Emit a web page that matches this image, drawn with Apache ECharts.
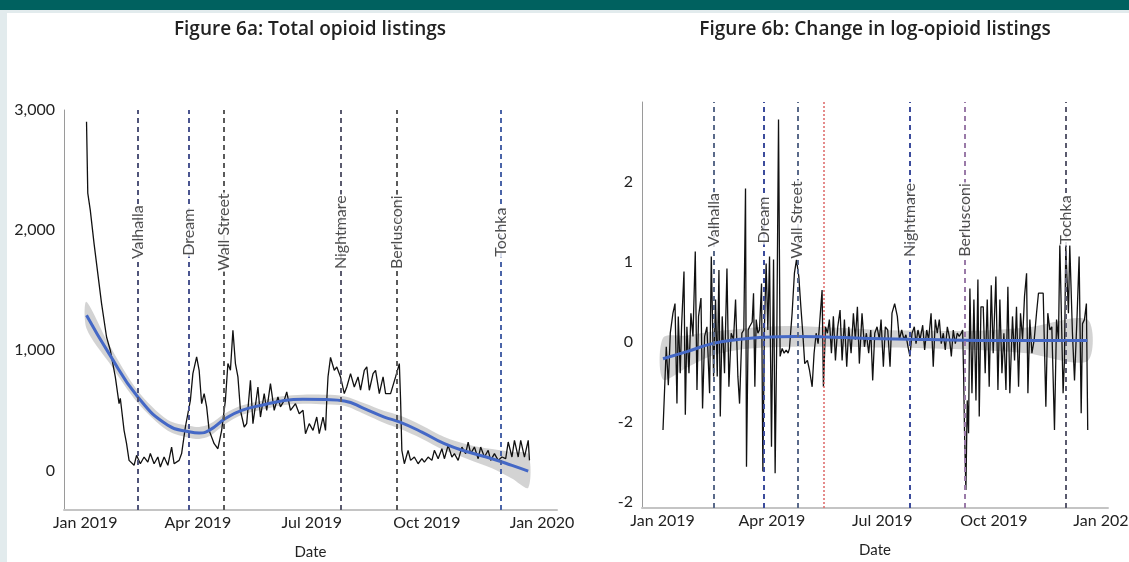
<!DOCTYPE html>
<html>
<head>
<meta charset="utf-8">
<script src="https://cdn.jsdelivr.net/npm/echarts@6/dist/echarts.min.js"></script>
<style>html,body{margin:0;padding:0;background:#fff;}#c{width:1129px;height:562px;}</style>
</head>
<body>
<div id="c"></div>
<script>
// ---------------- DATA ----------------
const titleA = 'Figure 6a: Total opioid listings';
const titleB = 'Figure 6b: Change in log-opioid listings';
const xTickDays = [0, 90, 181, 273, 365];          // days since 1 Jan 2019
const xTickLabels = ['Jan 2019', 'Apr 2019', 'Jul 2019', 'Oct 2019', 'Jan 2020'];
const yTicksLeft = [0, 1000, 2000, 3000];
const yTickLabelsLeft = ['0', '1,000', '2,000', '3,000'];
const yTicksRight = [-2, -1, 0, 1, 2];
const yTickLabelsRight = ['-2', '-2', '0', '1', '2'];
const eventNames = ['Valhalla', 'Dream', 'Wall Street', 'Nightmare', 'Berlusconi', 'Tochka'];
const eventDays = [42, 83, 111, 204, 249, 332];
const extraEventDay = 133; // red dotted line (6b only)

// total opioid listings: [day, listings]
const totalListings = [[1,2903],[2,2308],[4,2167],[7,1890],[11,1556],[13,1390],[17,1110],[20,1000],[24,778],[27,556],[28,600],[31,333],[33,222],[35,83],[39,42],[40,33],[41,125],[44,55],[47,111],[50,69],[52,140],[55,55],[58,111],[60,28],[63,111],[66,42],[69,194],[71,55],[75,83],[77,140],[80,361],[84,583],[86,805],[89,944],[91,833],[93,555],[95,639],[97,528],[99,333],[103,222],[106,180],[109,333],[112,583],[114,889],[116,833],[118,1167],[120,889],[122,778],[124,500],[127,361],[129,389],[132,750],[134,389],[138,694],[140,444],[143,639],[145,500],[148,722],[151,500],[154,611],[156,528],[159,583],[161,653],[164,500],[168,555],[171,472],[174,500],[176,305],[179,389],[182,333],[185,444],[187,305],[190,444],[192,333],[193,583],[194,778],[196,940],[199,833],[201,861],[204,778],[207,639],[209,694],[212,805],[215,694],[218,778],[220,667],[223,833],[225,861],[227,667],[230,805],[232,833],[235,639],[238,778],[240,639],[244,639],[248,778],[251,889],[252,583],[253,167],[255,55],[258,167],[260,83],[263,111],[266,55],[269,97],[271,69],[274,111],[277,83],[279,167],[282,97],[285,180],[287,97],[290,208],[293,111],[295,139],[298,83],[301,194],[304,139],[306,236],[308,139],[311,194],[314,97],[316,194],[319,111],[322,167],[324,83],[327,139],[330,83],[333,111],[336,97],[338,236],[341,111],[343,250],[346,111],[348,250],[351,111],[354,250],[355,83]];

// smoothed fit for 6a and its confidence half-width
const fitDaysA = [1,19,42,66,84,91,99,112,125,141,157,174,192,207,223,239,251,269,287,306,325,341,354];
const fitA = [1292,972,611,375,319,311,333,431,500,542,578,592,589,578,514,444,403,319,222,153,97,42,-6];
const fitHalfA = [110,75,50,45,50,50,50,45,40,38,38,38,40,40,45,50,55,55,55,60,80,110,140];

// change in log-opioid listings: [day, change]
const logChange = [[0.3,-1.1],[3,-0.06],[4.7,-0.54],[6.3,0.11],[8.5,0.36],[10.2,0.48],[11.8,-0.77],[12.9,0.32],[14.5,-0.39],[15.6,0.19],[17.6,0.88],[18.7,-0.91],[20,0.19],[21.7,-0.39],[23.3,0.36],[25,0.07],[26.9,1.13],[28.3,-0.6],[29.6,0.32],[31.6,0.55],[32.9,-0.83],[34.6,0.07],[36.5,0.19],[38.7,-0.64],[40.1,1.07],[42,-0.43],[43.6,0.53],[45,-0.43],[46.4,0.9],[47.5,-0.93],[49.1,0.32],[51,-0.39],[53,0.92],[54.6,-0.56],[56.5,0.11],[58.4,0.03],[60.1,0.53],[62,-0.43],[63.4,-0.77],[65.3,0.11],[66.9,0.15],[68.3,1.92],[69.1,-1.56],[70.5,0.15],[71.6,0.19],[73.8,0.25],[74.9,0.61],[76,-0.56],[77.1,0.28],[78.5,0.11],[79.8,0.15],[81.5,0.73],[82.6,-1.62],[83.9,0.19],[85.3,0.98],[86.7,0.15],[88.1,1.07],[89.7,-1.31],[91.4,1.03],[92.7,-1.64],[94.1,0.11],[95.5,2.78],[96.8,-0.18],[98.5,-0.08],[100.1,-0.14],[101.8,-0.1],[103.4,-0.14],[104.5,-0.08],[106.7,0.36],[108.6,0.86],[110.3,1.03],[112.2,0.82],[113.9,0.44],[115.5,0.11],[117.1,-0.27],[119.3,-0.23],[121,-0.35],[123.2,-0.56],[124.8,-0.14],[126.5,0.11],[128.1,-0.02],[129.8,0.32],[131.4,0.65],[132.5,-0.56],[134.2,0.19],[135.8,0.11],[137.4,0.28],[139.1,-0.14],[140.7,0.32],[142.4,-0.23],[144.3,0.19],[146.2,0.4],[147.9,-0.23],[149.8,0.28],[151.7,-0.31],[153.4,0.19],[155.3,-0.14],[157.2,0.36],[158.8,0.03],[160.5,0.44],[162.1,-0.27],[164.3,0.36],[166.3,-0.06],[167.9,0.11],[169.8,-0.14],[171.5,0.15],[173.1,-0.48],[174.8,0.11],[176.7,0.19],[178.6,0.03],[180,0.28],[181.9,-0.31],[183.5,0.19],[185.5,0.15],[187.4,-0.31],[189,0.36],[191.2,0.48],[193.4,0.32],[195.1,0.03],[197,0.15],[198.9,0.03],[200.5,0.09],[202.2,-0.06],[203.8,-0.18],[205.5,0.11],[207.4,0.19],[208.8,-0.02],[210.4,0.15],[212.1,0.03],[214.3,0.21],[215.9,-0.1],[217.6,0.15],[219.2,0.03],[221.2,0.36],[223,-0.31],[224.7,0.28],[226.3,0.11],[228,0.28],[229.6,-0.02],[231.3,0.11],[232.9,-0.1],[234.6,0.19],[236.2,0.07],[237.9,-0.18],[239.5,0.15],[241.2,-0.02],[242.8,0.11],[244.4,0.07],[246.1,0.11],[247.2,0.15],[248,-0.39],[248.8,-1.14],[249.9,-1.85],[251,-0.73],[252.1,-1.14],[253.2,0.67],[254.9,-0.64],[256.5,0.53],[258.2,-0.73],[259.8,0.78],[260.9,-0.93],[262.3,0.44],[264.2,0.44],[265.8,-0.39],[267.5,0.53],[269.1,-0.56],[270.8,0.71],[272.4,-0.14],[274.6,0.82],[276.3,-0.6],[277.9,0.53],[279.6,-0.39],[281.2,0.11],[282.9,-0.6],[284.5,0.69],[286.1,-0.64],[288.3,0.32],[290,-0.23],[291.6,0.44],[293.3,-0.56],[294.9,0.36],[296.6,0.03],[298.2,0.57],[299.9,0.86],[301,-0.64],[302.6,0.28],[304.3,-0.14],[306.2,0.03],[308.1,0.36],[309.7,0.61],[313.6,0.61],[314.7,0.61],[315.8,-0.81],[317.4,0.36],[319.1,0.15],[320.7,0.19],[321.8,0.19],[322.9,-1.1],[324.6,0.28],[326.2,0.03],[327.3,1.23],[328.9,1.23],[330,-0.64],[331.1,-0.23],[332.2,1.19],[334.4,0.36],[335.5,1.21],[337.7,0.11],[339.4,-0.48],[341.6,0.36],[343.2,1.07],[344.9,-0.89],[346,0.23],[347.6,0.28],[349.2,0.48],[350.3,-1.1]];

// smoothed fit for 6b and its confidence half-width
const fitDaysB = [0.3,20,41,62,83,110,140,180,220,260,300,350];
const fitB = [-0.21,-0.12,-0.02,0.03,0.06,0.07,0.06,0.04,0.03,0.02,0.02,0.02];
const fitHalfB = [0.26,0.2,0.15,0.13,0.13,0.13,0.12,0.11,0.11,0.12,0.16,0.26];

// ---------------- CHART ----------------
const FONT = 'Lato';
const chart = echarts.init(document.getElementById('c'), null, {renderer: 'canvas'});

function xAxisDef(gi, min, max) {
  return {
    gridIndex: gi, type: 'value', min: min, max: max,
    axisLine: {onZero: false, lineStyle: {color: '#c4c4c4', width: 2}},
    axisTick: {show: false}, splitLine: {show: false},
    axisLabel: {
      customValues: xTickDays,
      formatter: v => xTickLabels[xTickDays.indexOf(v)],
      color: '#222', fontFamily: FONT, fontSize: 16, margin: 5, hideOverlap: false
    },
    name: 'Date', nameLocation: 'middle', nameGap: 35,
    nameTextStyle: {color: '#222', fontFamily: FONT, fontSize: 15}
  };
}
function yAxisDef(gi, min, max, ticks, labels) {
  return {
    gridIndex: gi, type: 'value', min: min, max: max,
    axisLine: {show: true, onZero: false, lineStyle: {color: '#9a9a9a', width: 1}},
    axisTick: {show: false}, splitLine: {show: false},
    axisLabel: {
      customValues: ticks,
      formatter: v => labels[ticks.indexOf(v)],
      color: '#222', fontFamily: FONT, fontSize: 16, margin: 9
    }
  };
}
function bandSeries(gi, days, fit, half) {
  return {
    type: 'custom', xAxisIndex: gi, yAxisIndex: gi, silent: true, z: 1, clip: true,
    data: days.map((d, i) => [d, fit[i] - half[i], fit[i] + half[i]]),
    encode: {x: 0, y: [1, 2]},
    renderItem: function (params, api) {
      if (params.dataIndex !== 0) return null;
      const pts = [];
      for (let i = 0; i < days.length; i++) pts.push(api.coord([days[i], fit[i] + half[i]]));
      for (let i = days.length - 1; i >= 0; i--) pts.push(api.coord([days[i], fit[i] - half[i]]));
      return {type: 'polygon', shape: {points: pts, smooth: 0.3},
        style: {fill: 'rgba(150,150,150,0.42)'}};
    }
  };
}
function fitSeries(gi, days, fit) {
  return {type: 'line', xAxisIndex: gi, yAxisIndex: gi, data: days.map((d, i) => [d, fit[i]]),
    smooth: 0.5, symbol: 'none', lineStyle: {color: '#4468c6', width: 3}, silent: true, z: 4};
}
function dashLines(colors, extra) {
  const data = eventDays.map((d, i) => ({xAxis: d, lineStyle: {color: colors[i], type: [5, 4], width: 2}}));
  if (extra !== undefined) data.push({xAxis: extra, lineStyle: {color: '#d66', type: [2, 2], width: 1.5}});
  return {symbol: ['none', 'none'], silent: true, label: {show: false}, data: data};
}
function labelSeries(gi, yVal) {
  return {type: 'scatter', xAxisIndex: gi, yAxisIndex: gi, symbolSize: 0, silent: true, z: 6,
    data: eventDays.map(d => [d, yVal]),
    label: {show: true, position: 'inside', rotate: 90, formatter: p => eventNames[p.dataIndex],
      color: '#222', fontFamily: FONT, fontSize: 16, backgroundColor: '#fff', padding: [0, 1]}};
}

const option = {
  animation: false,
  backgroundColor: '#fff',
  graphic: [
    {type: 'rect', shape: {x: 0, y: 0, width: 1129, height: 10}, style: {fill: '#00615f'}},
    {type: 'rect', shape: {x: 0, y: 10, width: 1129, height: 3}, style: {fill: '#e2ebed'}},
    {type: 'rect', shape: {x: 0, y: 10, width: 7, height: 552}, style: {fill: '#e2ebed'}},
    {type: 'text', x: 310, y: 30, style: {text: titleA, font: '600 19px "Open Sans"', fill: '#222', align: 'center', verticalAlign: 'middle'}},
    {type: 'text', x: 875, y: 30, style: {text: titleB, font: '600 19px "Open Sans"', fill: '#222', align: 'center', verticalAlign: 'middle'}}
  ],
  grid: [
    {left: 64, right: 572, top: 110, bottom: 52, outerBoundsMode: 'none', containLabel: false},
    {left: 642, right: 21, top: 102, bottom: 54, outerBoundsMode: 'none', containLabel: false}
  ],
  xAxis: [xAxisDef(0, -17, 377), xAxisDef(1, -17, 367)],
  yAxis: [
    yAxisDef(0, -330, 3000, yTicksLeft, yTickLabelsLeft),
    yAxisDef(1, -2.075, 3.0, yTicksRight, yTickLabelsRight)
  ],
  series: [
    bandSeries(0, fitDaysA, fitA, fitHalfA),
    {type: 'line', xAxisIndex: 0, yAxisIndex: 0, data: totalListings, symbol: 'none',
     lineStyle: {color: '#111', width: 1.3}, z: 3,
     markLine: dashLines(['#50557a', '#4a5590', '#5a5a5a', '#5a5a6e', '#5a5a5a', '#4a64a8'])},
    fitSeries(0, fitDaysA, fitA),
    labelSeries(0, 1983),
    bandSeries(1, fitDaysB, fitB, fitHalfB),
    {type: 'line', xAxisIndex: 1, yAxisIndex: 1, data: logChange, symbol: 'none',
     lineStyle: {color: '#111', width: 1.3}, z: 3,
     markLine: dashLines(['#5a6a8a', '#3c4c9c', '#5a6a8a', '#3c4c9c', '#9a7aa8', '#5a5a6e'], extraEventDay)},
    fitSeries(1, fitDaysB, fitB),
    labelSeries(1, 1.525)
  ]
};
chart.setOption(option);
</script>
</body>
</html>
